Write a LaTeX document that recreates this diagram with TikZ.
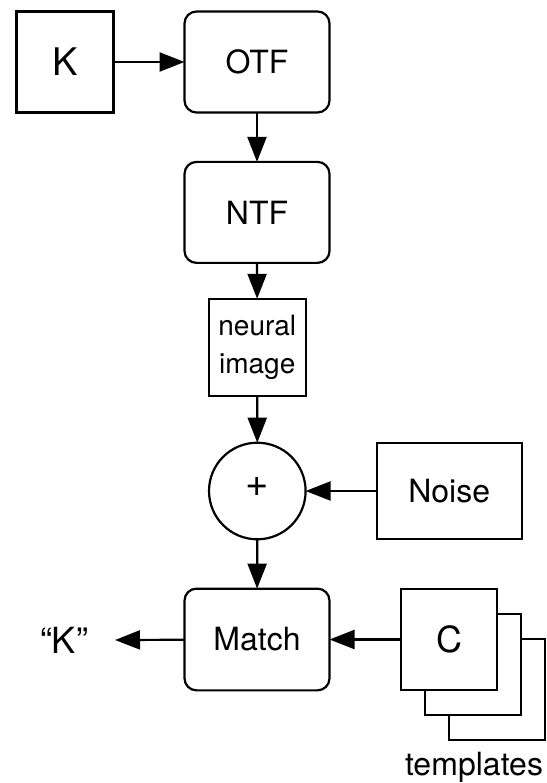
\documentclass[tikz,border=0pt]{standalone}
\usepackage{fontspec}
\setmainfont{TeX Gyre Heros}
\usetikzlibrary{arrows.meta}
\begin{document}
\begin{tikzpicture}[x=1pt,y=-1pt,
  line width=2.2pt,
  every node/.style={inner sep=0pt,outer sep=0pt,font=\fontsize{32}{38}\selectfont},
  sqbox/.style={draw,minimum width=97pt,minimum height=101pt},
  rbox/.style={draw,rounded corners=12pt,minimum width=145pt,minimum height=101pt},
  arr/.style={-{Triangle[length=25pt,width=19pt]}}
]
\useasboundingbox (0,0) rectangle (546,783);
\node[sqbox,font=\fontsize{38}{44}\selectfont] (k) at (65,62) {K};
\node[rbox] (otf) at (257,62) {OTF};
\node[rbox] (ntf) at (257,212.4) {NTF};
\node[draw,minimum width=97pt,minimum height=97pt,align=center,font=\fontsize{28}{38}\selectfont] (ni) at (257.2,347.3) {neural\\image};
\node[draw,circle,minimum size=96.6pt] (plus) at (257.3,491) {};
\node[font=\fontsize{40}{44}\selectfont] (plussign) at (257.3,487.5) {+};
\node[draw,minimum width=145pt,minimum height=96.6pt] (noise) at (449.2,491) {Noise};
\node[rbox,minimum height=101.7pt] (match) at (257,639.5) {Match};
\node[draw,fill=white,minimum width=96.4pt,minimum height=100.5pt] (c3) at (497,689.5) {};
\node[draw,fill=white,minimum width=96.4pt,minimum height=100.5pt] (c2) at (473,664.5) {};
\node[draw,fill=white,minimum width=96.4pt,minimum height=100.5pt,font=\fontsize{36}{42}\selectfont] (c) at (449,639.5) {C};
\node[font=\fontsize{36}{42}\selectfont] (out) at (64,640) {“K”};
\coordinate (outend) at (115,640);
\node[anchor=base] (tmpl) at (474,775) {templates};
\draw[arr] (k) -- (otf);
\draw[arr] (otf) -- (ntf);
\draw[arr] (ntf) -- (ni);
\draw[arr] (ni) -- (plus);
\draw[arr] (noise) -- (plus);
\draw[arr] (plus) -- (match);
\draw[arr] (c) -- (match);
\draw[arr] (match) -- (outend);
\end{tikzpicture}
\end{document}
